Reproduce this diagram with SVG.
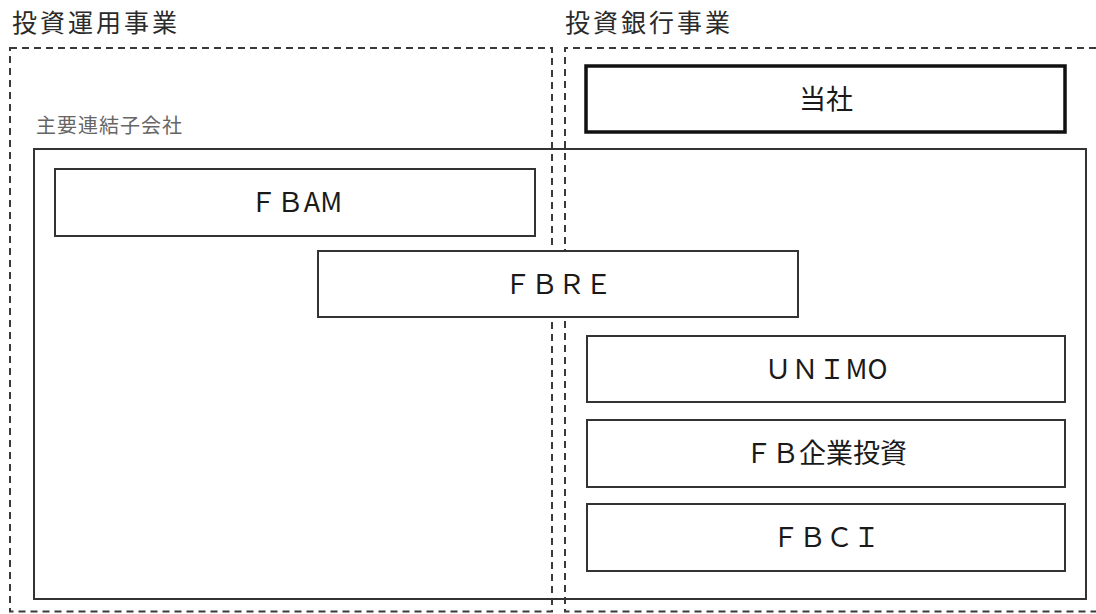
<svg xmlns="http://www.w3.org/2000/svg" width="1096" height="614" viewBox="0 0 1096 614">
<style>
  .bg { fill: #ffffff; }
  .dash { fill: none; stroke: #3a3a3a; stroke-width: 2; stroke-dasharray: 7 5; }
  .box { fill: #ffffff; stroke: #333333; stroke-width: 2; }
  .main { fill: #ffffff; stroke: #111111; stroke-width: 3.5; }
  .frame { fill: none; stroke: #333333; stroke-width: 2; }
  .title { font-family: "Noto Sans CJK JP", "Noto Sans", sans-serif; font-size: 25px; fill: #2a2a2a; letter-spacing: 3px; }
  .sub { font-family: "Noto Sans CJK JP", "Noto Sans", sans-serif; font-size: 20px; fill: #666666; letter-spacing: 1px; }
  .lbl { font-family: "Noto Sans CJK JP", "Noto Sans", sans-serif; font-size: 27px; fill: #1a1a1a; text-anchor: middle; }
</style>
<rect class="bg" x="0" y="0" width="1096" height="614"/>

<g id="segments">
  <text class="title" x="12" y="32">投資運用事業</text>
  <text class="title" x="565" y="32">投資銀行事業</text>
  <path class="dash" d="M10,48 H552 V611.5 H10 Z"/>
  <path class="dash" d="M1096,48 H565 V611.5 H1096"/>
</g>

<g id="subsidiaries">
  <text class="sub" x="36" y="133">主要連結子会社</text>
  <rect class="frame" x="34" y="149" width="1052" height="450"/>
</g>

<g id="node-toushaa">
  <rect class="main" x="586" y="66" width="479" height="66"/>
  <text class="lbl" x="826" y="109">当社</text>
</g>

<g id="node-fbam">
  <rect class="box" x="55" y="169" width="480" height="67"/>
  <text class="lbl" x="296" y="212">ＦＢAM</text>
</g>

<g id="node-fbre">
  <rect class="box" x="318" y="251" width="480" height="66"/>
  <text class="lbl" x="558" y="294">ＦＢＲＥ</text>
</g>

<g id="node-unimo">
  <rect class="box" x="587" y="336" width="478" height="66"/>
  <text class="lbl" x="826" y="379">ＵＮＩMO</text>
</g>

<g id="node-fbkigyo">
  <rect class="box" x="587" y="420" width="478" height="67"/>
  <text class="lbl" x="826" y="463">ＦＢ企業投資</text>
</g>

<g id="node-fbci">
  <rect class="box" x="587" y="504" width="478" height="67"/>
  <text class="lbl" x="826" y="547">ＦＢＣＩ</text>
</g>

<g id="connectors"></g>
</svg>
